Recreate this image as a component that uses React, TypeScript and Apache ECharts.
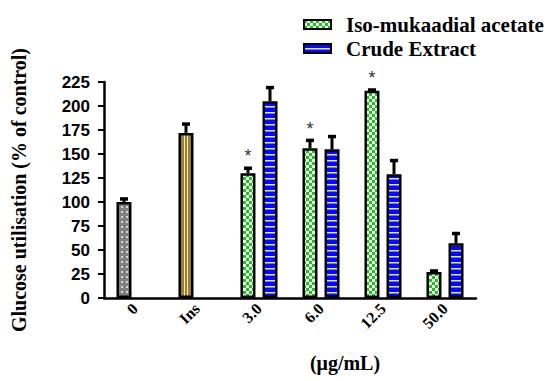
import React, { useEffect, useRef } from 'react';
import * as echarts from 'echarts';

const categories = ['0', 'Ins', '3.0', '6.0', '12.5', '50.0'];
const seriesNames = ['Iso-mukaadial acetate', 'Crude Extract'];
const isoValues: (number | null)[] = [100, 172, 130, 156, 216, 27];
const isoErrors = [5, 11, 7, 10, 2.5, 3];
const isoSignificant = [false, false, true, true, true, false];
const crudeValues: (number | null)[] = [null, null, 205, 155, 129, 57];
const crudeErrors = [0, 0, 16, 15, 16, 12];
const yMin = 0;
const yMax = 225;
const yInterval = 25;
const xAxisTitle = '(\u03bcg/mL)';
const yAxisTitle = 'Glucose utilisation (% of control)';

const SERIF = '"Liberation Serif", "Times New Roman", serif';
const SANS = '"Liberation Sans", Arial, sans-serif';

function makeTile(w: number, h: number, draw: (ctx: CanvasRenderingContext2D) => void) {
  const c = document.createElement('canvas');
  c.width = w;
  c.height = h;
  const ctx = c.getContext('2d')!;
  draw(ctx);
  return { image: c, repeat: 'repeat', imageWidth: w, imageHeight: h } as any;
}

export default function App() {
  const ref = useRef<HTMLDivElement>(null);
  useEffect(() => {
    if (!ref.current) return;
    const chart = echarts.init(ref.current, undefined, { renderer: 'svg' });

    const greenChecker = makeTile(6, 6, (ctx) => {
      ctx.fillStyle = '#f2fff0';
      ctx.fillRect(0, 0, 6, 6);
      ctx.fillStyle = '#1fc21f';
      ctx.fillRect(0, 0, 3, 3);
      ctx.fillRect(3, 3, 3, 3);
    });
    const blueStripes = makeTile(4, 6, (ctx) => {
      ctx.fillStyle = '#0a0aee';
      ctx.fillRect(0, 0, 4, 6);
      ctx.fillStyle = '#dcdcff';
      ctx.fillRect(0, 4, 4, 1.5);
    });
    const grayDots = makeTile(5, 5, (ctx) => {
      ctx.fillStyle = '#808080';
      ctx.fillRect(0, 0, 5, 5);
      ctx.fillStyle = '#d6d6d6';
      ctx.fillRect(1, 1, 2, 2);
    });
    const olive = '#9b7f33';
    const oliveLight = '#f3ecb0';
    const oliveStripes = {
      type: 'linear', x: 0, y: 0, x2: 1, y2: 0,
      colorStops: [
        { offset: 0, color: olive }, { offset: 0.33, color: olive },
        { offset: 0.33, color: oliveLight }, { offset: 0.42, color: oliveLight },
        { offset: 0.42, color: olive }, { offset: 0.6, color: olive },
        { offset: 0.6, color: oliveLight }, { offset: 0.69, color: oliveLight },
        { offset: 0.69, color: olive }, { offset: 1, color: olive },
      ],
    } as any;

    const barW = 15;
    const offset = 11;

    const errorSeries = (name: string, values: (number | null)[], errors: number[], sig: boolean[], off: number) => ({
      type: 'custom',
      name,
      z: 4,
      silent: true,
      clip: false,
      encode: { x: 0, y: 1 },
      data: values
        .map((v, i) => (v == null ? null : [i, v, errors[i], sig[i] ? 1 : 0]))
        .filter((d) => d != null),
      renderItem: (_p: any, api: any) => {
        const i = api.value(0);
        const v = api.value(1);
        const e = api.value(2);
        const s = api.value(3);
        const p0 = api.coord([i, v]);
        const p1 = api.coord([i, v + e]);
        const x = p0[0] + off;
        const children: any[] = [
          { type: 'line', shape: { x1: x, y1: p0[1], x2: x, y2: p1[1] + 1 }, style: { stroke: '#000', lineWidth: 3 } },
          { type: 'rect', shape: { x: x - 4, y: p1[1], width: 8, height: 3.5 }, style: { fill: '#000' } },
        ];
        if (s) {
          children.push({
            type: 'text',
            x,
            y: p1[1] - 1,
            style: { text: '*', fill: '#333', font: '18px ' + SANS, align: 'center', verticalAlign: 'bottom' },
          });
        }
        return { type: 'group', children };
      },
    });

    chart.setOption({
      animation: false,
      backgroundColor: '#fff',
      grid: { left: 104, right: 74, top: 82, bottom: 83, containLabel: false },
      legend: {
        data: seriesNames,
        orient: 'vertical',
        left: 298,
        top: 9,
        itemWidth: 27,
        itemHeight: 9,
        itemGap: 3,
        icon: 'rect',
        textStyle: { fontFamily: SERIF, fontWeight: 'bold', fontSize: 21, color: '#000', padding: [0, 0, 0, 10] },
      },
      xAxis: {
        type: 'category',
        data: categories,
        axisLine: { lineStyle: { color: '#000', width: 2.5 } },
        axisTick: { alignWithLabel: true, length: 6, lineStyle: { color: '#000', width: 2 } },
        axisLabel: { rotate: 45, margin: 8, fontFamily: SERIF, fontWeight: 'bold', fontSize: 16, color: '#000' },
        splitLine: { show: false },
      },
      yAxis: {
        type: 'value',
        min: yMin,
        max: yMax,
        interval: yInterval,
        name: yAxisTitle,
        nameLocation: 'middle',
        nameGap: 75,
        nameTextStyle: { fontFamily: SERIF, fontWeight: 'bold', fontSize: 20, color: '#000' },
        axisLine: { show: true, lineStyle: { color: '#000', width: 2.5 } },
        axisTick: { show: true, length: 6, lineStyle: { color: '#000', width: 2 } },
        axisLabel: { margin: 14, fontFamily: SANS, fontWeight: 'bold', fontSize: 17, color: '#000' },
        splitLine: { show: false },
      },
      graphic: [
        {
          type: 'text',
          x: 345,
          y: 363,
          style: { text: xAxisTitle, fill: '#000', font: 'bold 20px ' + SERIF, align: 'center', verticalAlign: 'middle' },
        },
      ],
      series: [
        {
          type: 'bar',
          name: seriesNames[0],
          barWidth: barW,
          barGap: '47%',
          itemStyle: { color: greenChecker, borderColor: '#000', borderWidth: 2.5 },
          data: isoValues.map((v, i) =>
            i === 0
              ? { value: v, itemStyle: { color: grayDots } }
              : i === 1
              ? { value: v, itemStyle: { color: oliveStripes } }
              : v
          ),
        },
        {
          type: 'bar',
          name: seriesNames[1],
          barWidth: barW,
          barGap: '47%',
          itemStyle: { color: blueStripes, borderColor: '#000', borderWidth: 2.5 },
          data: crudeValues.map((v) => (v == null ? '-' : v)),
        },
        errorSeries('isoErr', isoValues, isoErrors, isoSignificant, -offset),
        errorSeries('crudeErr', crudeValues, crudeErrors, [false, false, false, false, false, false], offset),
      ],
    } as any);

    return () => chart.dispose();
  }, []);

  return <div ref={ref} style={{ position: 'absolute', left: 0, top: 0, width: 550, height: 381 }} />;
}
